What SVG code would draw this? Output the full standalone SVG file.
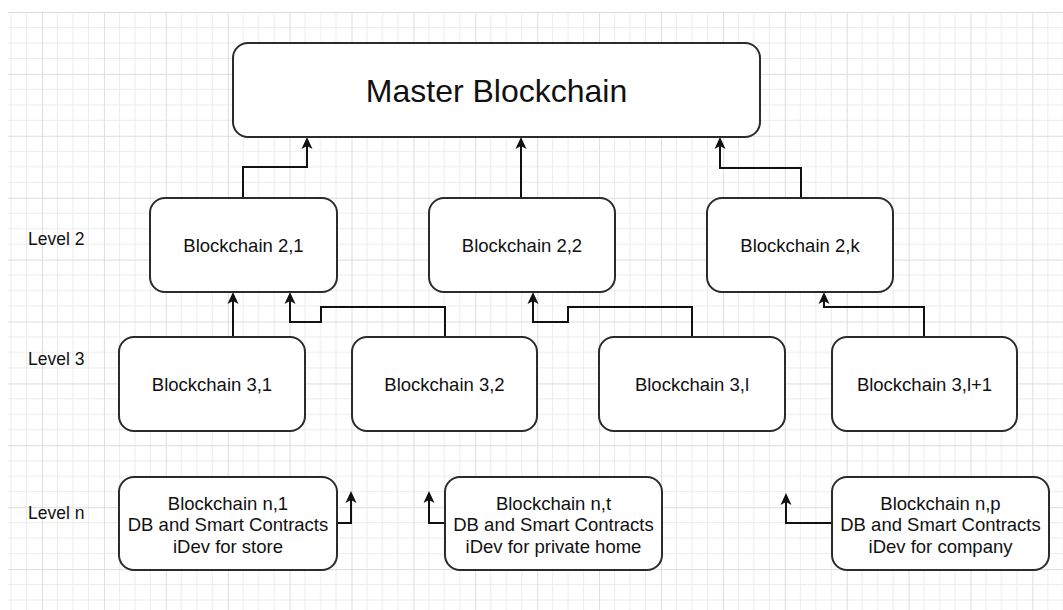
<svg xmlns="http://www.w3.org/2000/svg" width="1063" height="610" viewBox="0 0 1063 610">
<style>
.box{fill:#fff;stroke:#2b2b2b;stroke-width:2}
.t{font-family:"Liberation Sans",Arial,sans-serif;font-size:18.5px;fill:#111;text-anchor:middle}
.lbl{font-family:"Liberation Sans",Arial,sans-serif;font-size:17.5px;fill:#111}
.c{fill:none;stroke:#111;stroke-width:2;marker-end:url(#arr)}
</style>
<defs>
<pattern id="grid" x="-19.9" y="12" width="61.9" height="61.9" patternUnits="userSpaceOnUse">
<path d="M15.475 0V61.9M30.95 0V61.9M46.425 0V61.9M0 15.475H61.9M0 30.95H61.9M0 46.425H61.9" stroke="#ececec" stroke-width="1" fill="none"/>
<path d="M0.5 0V61.9M0 0.5H61.9" stroke="#dddddd" stroke-width="1" fill="none"/>
</pattern>
<marker id="arr" viewBox="0 0 12 12" refX="6" refY="6" markerWidth="12" markerHeight="12" markerUnits="userSpaceOnUse" orient="auto">
<path d="M0,0.5 L12,6 L0,11.5 L3,6 Z" fill="#111"/>
</marker>
</defs>
<rect x="0" y="0" width="1063" height="610" fill="#fff"/>
<rect x="8" y="12" width="1055" height="598" fill="url(#grid)"/>

<g id="labels">
<text class="lbl" x="28" y="245">Level 2</text>
<text class="lbl" x="28" y="365">Level 3</text>
<text class="lbl" x="28" y="519">Level n</text>
</g>

<g id="connectors">
<path class="c" d="M243 198V167H307V143"/>
<path class="c" d="M521 198V143"/>
<path class="c" d="M801 198V168H720V143"/>
<path class="c" d="M233 337V298"/>
<path class="c" d="M445 337V307H321V322H290V298"/>
<path class="c" d="M692 337V307H568V322H533V298"/>
<path class="c" d="M924 337V307H824V298"/>
<path class="c" d="M337 523H351V497"/>
<path class="c" d="M445 523H429V497"/>
<path class="c" d="M832 523H786V499"/>
</g>

<g id="master">
<rect class="box" x="233" y="43" width="527" height="94" rx="15"/>
<text class="t" x="496.5" y="102" style="font-size:32px">Master Blockchain</text>
</g>

<g id="b21"><rect class="box" x="150" y="198" width="187" height="94" rx="15"/><text class="t" x="243.5" y="252">Blockchain 2,1</text></g>
<g id="b22"><rect class="box" x="429" y="198" width="186" height="94" rx="15"/><text class="t" x="522" y="252">Blockchain 2,2</text></g>
<g id="b2k"><rect class="box" x="707" y="198" width="186" height="94" rx="15"/><text class="t" x="800" y="252">Blockchain 2,k</text></g>

<g id="b31"><rect class="box" x="119" y="337" width="186" height="94" rx="15"/><text class="t" x="212" y="391">Blockchain 3,1</text></g>
<g id="b32"><rect class="box" x="352" y="337" width="185" height="94" rx="15"/><text class="t" x="444.5" y="391">Blockchain 3,2</text></g>
<g id="b3l"><rect class="box" x="599" y="337" width="186" height="94" rx="15"/><text class="t" x="692" y="391">Blockchain 3,l</text></g>
<g id="b3l1"><rect class="box" x="832" y="337" width="185" height="94" rx="15"/><text class="t" x="924.5" y="391">Blockchain 3,l+1</text></g>

<g id="bn1"><rect class="box" x="119" y="477" width="218" height="93" rx="15"/>
<text class="t" x="228" y="510">Blockchain n,1</text><text class="t" x="228" y="531">DB and Smart Contracts</text><text class="t" x="228" y="553">iDev for store</text></g>
<g id="bnt"><rect class="box" x="445" y="477" width="217" height="93" rx="15"/>
<text class="t" x="553.5" y="510">Blockchain n,t</text><text class="t" x="553.5" y="531">DB and Smart Contracts</text><text class="t" x="553.5" y="553">iDev for private home</text></g>
<g id="bnp"><rect class="box" x="832" y="477" width="217" height="93" rx="15"/>
<text class="t" x="940.5" y="510">Blockchain n,p</text><text class="t" x="940.5" y="531">DB and Smart Contracts</text><text class="t" x="940.5" y="553">iDev for company</text></g>
</svg>
